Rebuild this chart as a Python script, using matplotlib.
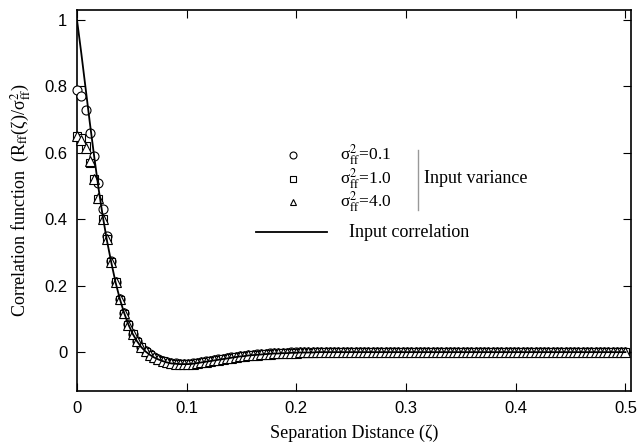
import numpy as np
import matplotlib
matplotlib.use("Agg")
import matplotlib.pyplot as plt

# sample grid (129 samples, 0 .. 0.5)
zeta = np.linspace(0.0, 0.5, 129)

# input correlation (solid line)
corr = [1.000, 0.900, 0.795, 0.690, 0.590, 0.495, 0.410, 0.335, 0.270, 0.210,
        0.160, 0.118, 0.083, 0.055, 0.033, 0.015, 0.002, -0.008, -0.016, -0.022,
        -0.027, -0.031, -0.034, -0.035, -0.036, -0.036, -0.036, -0.035, -0.033, -0.031,
        -0.029, -0.027, -0.025, -0.023, -0.021, -0.019, -0.017, -0.015, -0.013, -0.012,
        -0.010, -0.009, -0.008, -0.007, -0.006, -0.005, -0.004, -0.004, -0.003, -0.003,
        -0.002, -0.002, -0.001, -0.001, -0.001, -0.001, 0.000, 0.000, 0.000, 0.000,
        0.000, 0.000, 0.000, 0.000, 0.000, 0.000, 0.000, 0.000, 0.000, 0.000,
        0.000, 0.000, 0.000, 0.000, 0.000, 0.000, 0.000, 0.000, 0.000, 0.000,
        0.000, 0.000, 0.000, 0.000, 0.000, 0.000, 0.000, 0.000, 0.000, 0.000,
        0.000, 0.000, 0.000, 0.000, 0.000, 0.000, 0.000, 0.000, 0.000, 0.000,
        0.000, 0.000, 0.000, 0.000, 0.000, 0.000, 0.000, 0.000, 0.000, 0.000,
        0.000, 0.000, 0.000, 0.000, 0.000, 0.000, 0.000, 0.000, 0.000, 0.000,
        0.000, 0.000, 0.000, 0.000, 0.000, 0.000, 0.000, 0.000, 0.000]

# simulated correlation, sigma_ff^2 = 0.1 (circles)
var01 = [0.790, 0.770, 0.730, 0.660, 0.590, 0.510, 0.430, 0.350, 0.275, 0.212,
         0.160, 0.118, 0.084, 0.056, 0.034, 0.016, 0.003, -0.007, -0.015, -0.021,
         -0.026, -0.030, -0.033, -0.034, -0.035, -0.035, -0.035, -0.034, -0.032, -0.030,
         -0.028, -0.026, -0.024, -0.022, -0.020, -0.018, -0.016, -0.014, -0.012, -0.011,
         -0.009, -0.008, -0.007, -0.006, -0.005, -0.004, -0.003, -0.003, -0.002, -0.002,
         -0.001, -0.001, 0.000, 0.000, 0.000, 0.000, 0.001, 0.001, 0.001, 0.001,
         0.001, 0.001, 0.001, 0.001, 0.001, 0.001, 0.001, 0.001, 0.001, 0.001,
         0.001, 0.001, 0.001, 0.001, 0.001, 0.001, 0.001, 0.001, 0.001, 0.001,
         0.001, 0.001, 0.001, 0.001, 0.001, 0.001, 0.001, 0.001, 0.001, 0.001,
         0.001, 0.001, 0.001, 0.001, 0.001, 0.001, 0.001, 0.001, 0.001, 0.001,
         0.001, 0.001, 0.001, 0.001, 0.001, 0.001, 0.001, 0.001, 0.001, 0.001,
         0.001, 0.001, 0.001, 0.001, 0.001, 0.001, 0.001, 0.001, 0.001, 0.001,
         0.001, 0.001, 0.001, 0.001, 0.001, 0.001, 0.001, 0.001, 0.001]

# sigma_ff^2 = 1.0 (squares)
var10 = [0.650, 0.645, 0.620, 0.570, 0.520, 0.460, 0.400, 0.340, 0.272, 0.210,
         0.158, 0.116, 0.082, 0.054, 0.032, 0.014, 0.001, -0.009, -0.017, -0.023,
         -0.028, -0.032, -0.035, -0.036, -0.037, -0.037, -0.037, -0.036, -0.034, -0.032,
         -0.030, -0.028, -0.026, -0.024, -0.022, -0.020, -0.018, -0.016, -0.014, -0.013,
         -0.011, -0.010, -0.009, -0.008, -0.007, -0.006, -0.005, -0.005, -0.004, -0.004,
         -0.003, -0.003, -0.002, -0.002, -0.002, -0.002, -0.001, -0.001, -0.001, -0.001,
         -0.001, -0.001, -0.001, -0.001, -0.001, -0.001, -0.001, -0.001, -0.001, -0.001,
         -0.001, -0.001, -0.001, -0.001, -0.001, -0.001, -0.001, -0.001, -0.001, -0.001,
         -0.001, -0.001, -0.001, -0.001, -0.001, -0.001, -0.001, -0.001, -0.001, -0.001,
         -0.001, -0.001, -0.001, -0.001, -0.001, -0.001, -0.001, -0.001, -0.001, -0.001,
         -0.001, -0.001, -0.001, -0.001, -0.001, -0.001, -0.001, -0.001, -0.001, -0.001,
         -0.001, -0.001, -0.001, -0.001, -0.001, -0.001, -0.001, -0.001, -0.001, -0.001,
         -0.001, -0.001, -0.001, -0.001, -0.001, -0.001, -0.001, -0.001, -0.001]

# sigma_ff^2 = 4.0 (triangles)
var40 = [0.650, 0.640, 0.615, 0.575, 0.520, 0.465, 0.400, 0.340, 0.272, 0.211,
         0.159, 0.117, 0.083, 0.055, 0.033, 0.015, 0.002, -0.008, -0.016, -0.022,
         -0.027, -0.031, -0.034, -0.035, -0.036, -0.036, -0.036, -0.035, -0.033, -0.031,
         -0.029, -0.027, -0.025, -0.023, -0.021, -0.019, -0.017, -0.015, -0.013, -0.012,
         -0.010, -0.009, -0.008, -0.007, -0.006, -0.005, -0.004, -0.004, -0.003, -0.003,
         -0.002, -0.002, -0.001, -0.001, -0.001, -0.001, 0.000, 0.000, 0.000, 0.000,
         0.000, 0.000, 0.000, 0.000, 0.000, 0.000, 0.000, 0.000, 0.000, 0.000,
         0.000, 0.000, 0.000, 0.000, 0.000, 0.000, 0.000, 0.000, 0.000, 0.000,
         0.000, 0.000, 0.000, 0.000, 0.000, 0.000, 0.000, 0.000, 0.000, 0.000,
         0.000, 0.000, 0.000, 0.000, 0.000, 0.000, 0.000, 0.000, 0.000, 0.000,
         0.000, 0.000, 0.000, 0.000, 0.000, 0.000, 0.000, 0.000, 0.000, 0.000,
         0.000, 0.000, 0.000, 0.000, 0.000, 0.000, 0.000, 0.000, 0.000, 0.000,
         0.000, 0.000, 0.000, 0.000, 0.000, 0.000, 0.000, 0.000, 0.000]

var_labels = [r"σ$^2_{\rm ff}$=0.1", r"σ$^2_{\rm ff}$=1.0", r"σ$^2_{\rm ff}$=4.0"]

plt.rcParams["mathtext.fontset"] = "stix"
serif = "Liberation Serif"
sans = "Liberation Sans"

fig = plt.figure(figsize=(6.38, 4.46), dpi=100)
ax = fig.add_axes([0.1207, 0.1233, 0.8683, 0.8543])

mk = dict(linestyle="none", markerfacecolor="white", markeredgecolor="black",
          markeredgewidth=0.8, clip_on=False)
ax.plot(zeta, var01, marker="o", markersize=6.5, zorder=3, **mk)
ax.plot(zeta, var10, marker="s", markersize=6, zorder=3, **mk)
ax.plot(zeta, var40, marker="^", markersize=6.5, zorder=3, **mk)
ax.plot(zeta, corr, color="black", linewidth=1.3, zorder=4)

ax.set_xlim(0, 0.505)
ax.set_ylim(-0.117, 1.03)
ax.set_xticks([0, 0.1, 0.2, 0.3, 0.4, 0.5])
ax.set_xticklabels(["0", "0.1", "0.2", "0.3", "0.4", "0.5"], fontfamily=sans, fontsize=12)
ax.set_yticks([0, 0.2, 0.4, 0.6, 0.8, 1.0])
ax.set_yticklabels(["0", "0.2", "0.4", "0.6", "0.8", "1"], fontfamily=sans, fontsize=12)
ax.tick_params(direction="in", length=6, width=0.8, top=True, right=True, pad=7)
for s in ax.spines.values():
    s.set_linewidth(1.2)

ax.set_xlabel("Separation Distance (ζ)", fontfamily=serif, fontsize=13, labelpad=6)
ax.set_ylabel(r"Correlation function  (R$_{\rm ff}$(ζ)/σ$^2_{\rm ff}$)",
              fontfamily=serif, fontsize=13, labelpad=8)

# legend drawn by hand (axes fraction coords)
tr = ax.transAxes
def ax_xy(px, py):
    return ((px - 77) / 554, (391 - py) / 381)

for m, ms, py, lab in zip(["o", "s", "^"], [5, 4.5, 5], [155, 179, 202], var_labels):
    x0, y0 = ax_xy(293, py)
    ax.plot([x0], [y0], marker=m, markersize=ms, transform=tr, **mk)
    x1, _ = ax_xy(340, py)
    ax.text(x1, y0, lab, transform=tr, fontfamily=serif, fontsize=12.5, va="center", ha="left")

xa, ya = ax_xy(418, 150)
xb, yb = ax_xy(418, 210)
ax.plot([xa, xb], [ya, yb], color="#999999", linewidth=1.0, transform=tr)
xt, yt = ax_xy(424, 179)
ax.text(xt, yt, "Input variance", transform=tr, fontfamily=serif, fontsize=13, va="center", ha="left")

xl0, yl = ax_xy(256, 232)
xl1, _ = ax_xy(327, 232)
ax.plot([xl0, xl1], [yl, yl], color="black", linewidth=1.3, transform=tr)
xt, _ = ax_xy(349, 232)
ax.text(xt, yl, "Input correlation", transform=tr, fontfamily=serif, fontsize=13, va="center", ha="left")

fig.savefig("out.png", dpi=100)
